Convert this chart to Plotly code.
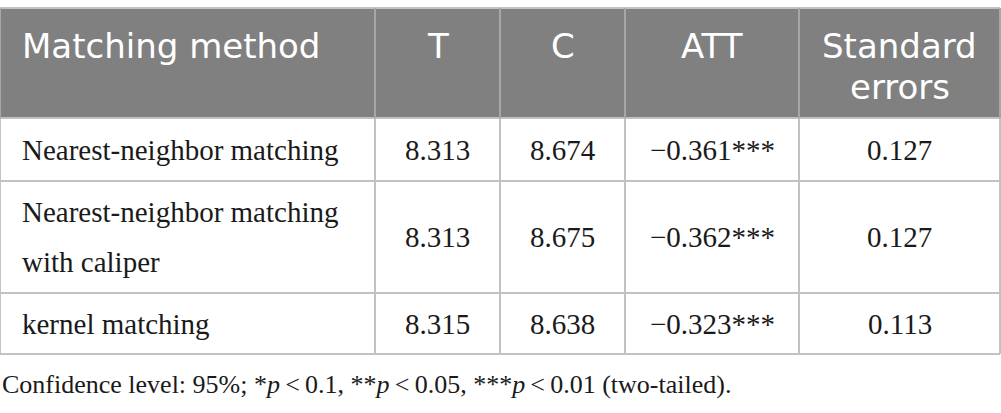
import plotly.graph_objects as go

# Table content
columns = ['Matching method', 'T', 'C', 'ATT', 'Standard<br>errors']
methods = ['Nearest-neighbor matching', 'Nearest-neighbor matching<br>with caliper', 'kernel matching']
t_values = ['8.313', '8.313', '8.315']
c_values = ['8.674', '8.675', '8.638']
att_values = ['\u22120.361***', '\u22120.362***', '\u22120.323***']
se_values = ['0.127', '0.127', '0.113']
footnote = ('Confidence level: 95%; *<i>p</i>\u2009<\u20090.1, **<i>p</i>\u2009<\u20090.05, '
            '***<i>p</i>\u2009<\u20090.01 (two-tailed).')


def main():
    W, H = 1001, 413
    col_edges = [0, 375, 500, 625, 799, 1000]
    row_edges = [8, 118, 181, 293, 354]
    header_fill = '#808080'
    grid = '#c2c2c2'
    head_font = dict(family='DejaVu Sans', size=34, color='white')
    body_font = dict(family='Liberation Serif', size=29, color='#1a1a1a')

    shapes = []
    annotations = []

    # header background
    shapes.append(dict(type='rect', x0=col_edges[0], x1=col_edges[-1], y0=row_edges[0], y1=row_edges[1],
                       fillcolor=header_fill, line_width=0, layer='below'))

    # horizontal rules
    for y in row_edges:
        shapes.append(dict(type='line', x0=col_edges[0], x1=col_edges[-1], y0=y, y1=y,
                           line=dict(color=grid, width=2)))
    # vertical rules
    for x in col_edges:
        shapes.append(dict(type='line', x0=x, x1=x, y0=row_edges[0], y1=row_edges[1],
                           line=dict(color='#a6a6a6', width=2)))
        shapes.append(dict(type='line', x0=x, x1=x, y0=row_edges[1], y1=row_edges[-1],
                           line=dict(color=grid, width=2)))

    # header labels (top aligned)
    for i, name in enumerate(columns):
        lines = name.split('<br>')
        for j, line in enumerate(lines):
            y = 46 + j * 41
            if i == 0:
                annotations.append(dict(x=20, y=y, text=line, xanchor='left', yanchor='middle',
                                        showarrow=False, font=head_font))
            else:
                annotations.append(dict(x=(col_edges[i] + col_edges[i + 1]) / 2, y=y, text=line,
                                        xanchor='center', yanchor='middle', showarrow=False, font=head_font))

    # body rows
    for r in range(len(methods)):
        yc = (row_edges[r + 1] + row_edges[r + 2]) / 2
        lines = methods[r].split('<br>')
        step = 50
        y0 = yc - step * (len(lines) - 1) / 2
        for j, line in enumerate(lines):
            annotations.append(dict(x=20, y=y0 + j * step, text=line, xanchor='left', yanchor='middle',
                                    showarrow=False, font=body_font))
        for i, vals in enumerate([t_values, c_values, att_values, se_values], start=1):
            annotations.append(dict(x=(col_edges[i] + col_edges[i + 1]) / 2, y=yc, text=vals[r],
                                    xanchor='center', yanchor='middle', showarrow=False, font=body_font))

    annotations.append(dict(x=0, y=384, text=footnote, xanchor='left', yanchor='middle', showarrow=False,
                            font=dict(family='Liberation Serif', size=26, color='#1a1a1a')))

    fig = go.Figure()
    fig.update_layout(
        width=W, height=H,
        margin=dict(l=0, r=0, t=0, b=0),
        paper_bgcolor='white', plot_bgcolor='white',
        xaxis=dict(range=[0, W], visible=False, fixedrange=True),
        yaxis=dict(range=[H, 0], visible=False, fixedrange=True),
        shapes=shapes, annotations=annotations,
        showlegend=False,
    )
    # drop the browser's default 8px body margin so the table sits at the page origin
    fig.write_html('out.html', config=dict(displayModeBar=False),
                   post_script="document.body.style.margin='0';")


if __name__ == '__main__':
    main()
